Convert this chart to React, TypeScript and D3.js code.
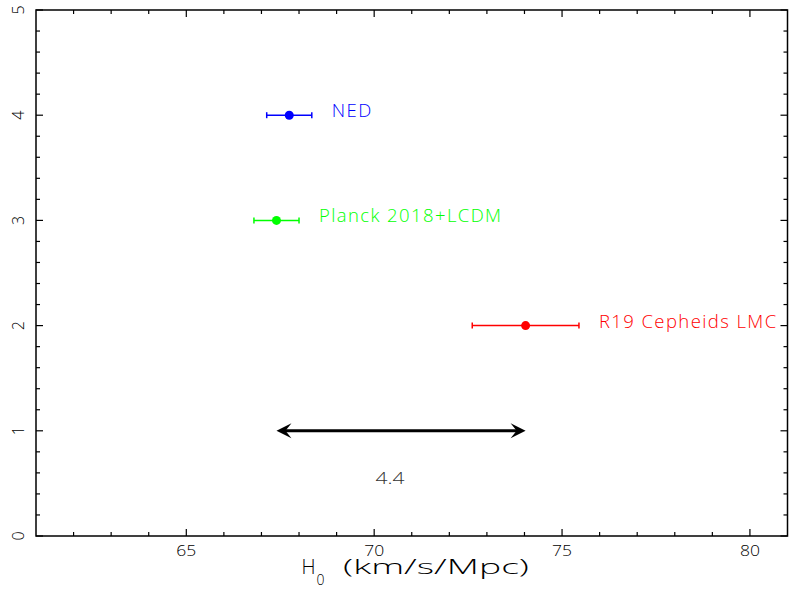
import React from 'react';
import * as d3 from 'd3';

// ── Data ─────────────────────────────────────────────────────────────────────
const labels = ['NED', 'Planck 2018+LCDM', 'R19 Cepheids LMC'];
const h0Values = [67.74, 67.4, 74.03];
const h0Errors = [0.6, 0.6, 1.42];
const rows = [4, 3, 2];
const colors = ['#0000ff', '#00ff00', '#ff0000'];

// tension arrow between Planck and R19
const tensionFrom = 67.4;
const tensionTo = 74.03;
const tensionRow = 1;
const tensionLabel = '4.4';
const tensionLabelPos = [70.42, 0.5];

const xMajor = [65, 70, 75, 80];
const yMajor = [0, 1, 2, 3, 4, 5];

const W = 789, H = 594;
const LIGHT = '"Open Sans", "DejaVu Sans", sans-serif';

export default function App() {
  const x = d3.scaleLinear().domain([61, 81]).range([36, 787.5]);
  const y = d3.scaleLinear().domain([0, 5]).range([536, 10]);

  const [x0, x1] = x.range();
  const [y0, y1] = y.range(); // y0 bottom, y1 top

  const xMinor = d3.range(62, 81, 1).filter(v => !xMajor.includes(v));
  const yMinor = d3.range(0, 5.001, 0.2).map(v => +v.toFixed(1)).filter(v => !yMajor.includes(v));

  const MAJ = 7, MIN = 4;
  const axisStroke = '#000';

  // swept-back arrowhead, tip at (0,0) pointing to +x
  const head = 'M0,0 L-15,-7.5 L-9,0 L-15,7.5 Z';

  return (
    <svg width={W} height={H} viewBox={`0 0 ${W} ${H}`}
      style={{ position: 'absolute', left: 0, top: 0, background: '#fff', display: 'block' }}>
      <rect x={0} y={0} width={W} height={H} fill="#fff" />

      {/* frame */}
      <rect x={x0} y={y1} width={x1 - x0} height={y0 - y1} fill="none" stroke={axisStroke} strokeWidth={1.5} />

      {/* x ticks, bottom and top */}
      {xMajor.map(v => (
        <g key={`xm${v}`} stroke={axisStroke} strokeWidth={1.2}>
          <line x1={x(v)} x2={x(v)} y1={y0} y2={y0 - MAJ} />
          <line x1={x(v)} x2={x(v)} y1={y1} y2={y1 + MAJ} />
        </g>
      ))}
      {xMinor.map(v => (
        <g key={`xn${v}`} stroke={axisStroke} strokeWidth={1.2}>
          <line x1={x(v)} x2={x(v)} y1={y0} y2={y0 - MIN} />
          <line x1={x(v)} x2={x(v)} y1={y1} y2={y1 + MIN} />
        </g>
      ))}
      {xMajor.map(v => (
        <text key={`xl${v}`} x={x(v)} y={556} textAnchor="middle" textLength={20} lengthAdjust="spacingAndGlyphs"
          style={{ fontFamily: LIGHT, fontWeight: 300, fontSize: 14.5, fill: '#000' }}>{v}</text>
      ))}

      {/* y ticks, left and right */}
      {yMajor.map(v => (
        <g key={`ym${v}`} stroke={axisStroke} strokeWidth={1.2}>
          <line x1={x0} x2={x0 + MAJ} y1={y(v)} y2={y(v)} />
          <line x1={x1} x2={x1 - MAJ} y1={y(v)} y2={y(v)} />
        </g>
      ))}
      {yMinor.map(v => (
        <g key={`yn${v}`} stroke={axisStroke} strokeWidth={1.2}>
          <line x1={x0} x2={x0 + MIN} y1={y(v)} y2={y(v)} />
          <line x1={x1} x2={x1 - MIN} y1={y(v)} y2={y(v)} />
        </g>
      ))}
      {yMajor.map(v => (
        <text key={`yl${v}`} transform={`translate(24,${y(v)}) rotate(-90)`} textAnchor="middle"
          style={{ fontFamily: LIGHT, fontWeight: 300, fontSize: 16, fill: '#000' }}>{v}</text>
      ))}

      {/* x-axis title */}
      <text x={301.5} y={574} style={{ fontFamily: LIGHT, fontWeight: 300, fontSize: 19.5, fill: '#000' }}>
        <tspan>H</tspan>
        <tspan x={316.5} dy={11} style={{ fontSize: 14 }}>0</tspan>
      </text>
      <text x={343} y={574} textLength={186} lengthAdjust="spacingAndGlyphs"
        style={{ fontFamily: LIGHT, fontWeight: 300, fontSize: 19.5, fill: '#000' }}>(km/s/Mpc)</text>

      {/* measurements */}
      {labels.map((lab, i) => {
        const cy = y(rows[i]);
        const xl = x(h0Values[i] - h0Errors[i]);
        const xr = x(h0Values[i] + h0Errors[i]);
        return (
          <g key={lab}>
            <line x1={xl} x2={xr} y1={cy} y2={cy} stroke={colors[i]} strokeWidth={1.5} />
            <line x1={xl} x2={xl} y1={cy - 3} y2={cy + 3} stroke={colors[i]} strokeWidth={1.5} />
            <line x1={xr} x2={xr} y1={cy - 3} y2={cy + 3} stroke={colors[i]} strokeWidth={1.5} />
            <circle cx={x(h0Values[i])} cy={cy} r={4.5} fill={colors[i]} />
            <text x={xr + 20} y={cy + 2}
              style={{ fontFamily: LIGHT, fontWeight: 300, fontSize: 18.5, letterSpacing: 1.4, fill: colors[i] }}>{lab}</text>
          </g>
        );
      })}

      {/* tension arrow */}
      <g>
        <line x1={x(tensionFrom) + 6} x2={x(tensionTo) - 6} y1={y(tensionRow)} y2={y(tensionRow)}
          stroke="#000" strokeWidth={3} />
        <path d={head} transform={`translate(${x(tensionTo)},${y(tensionRow)})`} fill="#000" />
        <path d={head} transform={`translate(${x(tensionFrom)},${y(tensionRow)}) rotate(180)`} fill="#000" />
        <text x={x(tensionLabelPos[0])} y={y(tensionLabelPos[1]) + 0.5} textAnchor="middle"
          textLength={29} lengthAdjust="spacingAndGlyphs"
          style={{ fontFamily: LIGHT, fontWeight: 300, fontSize: 15.5, fill: '#333' }}>{tensionLabel}</text>
      </g>
    </svg>
  );
}
